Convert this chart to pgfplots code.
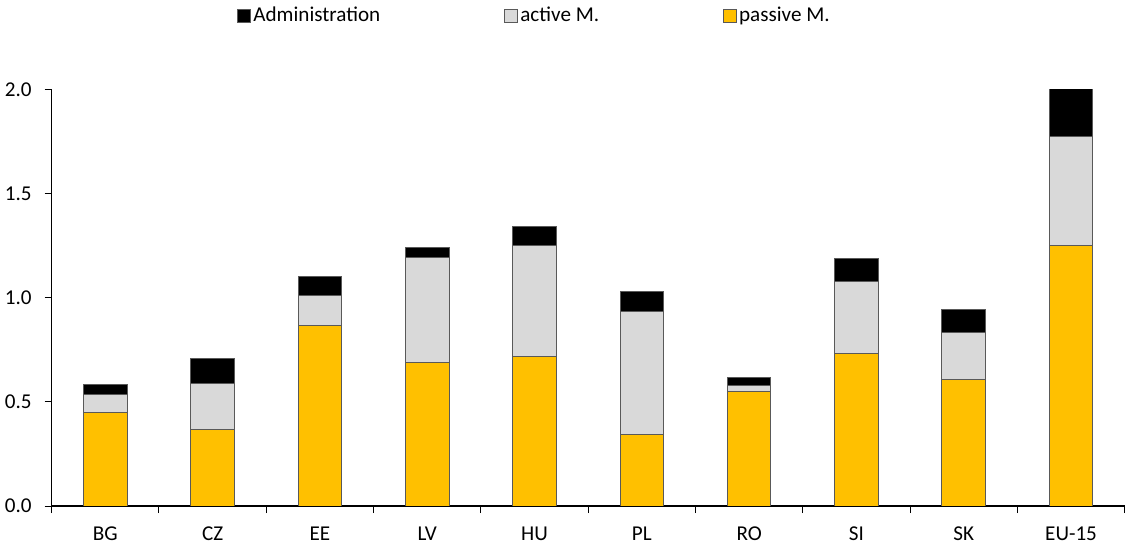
\documentclass[border=0pt]{standalone}
\usepackage{pgfplots}
\pgfplotsset{compat=1.18}
\usepackage{fontspec}
\setmainfont{Carlito}
\definecolor{cyel}{HTML}{FFC000}
\definecolor{cgry}{HTML}{D9D9D9}
\definecolor{cedge}{HTML}{595959}
\pgfplotsset{sqleg/.style={legend image code/.code={\draw[##1] (0bp,-3.25bp) rectangle (6.5bp,3.25bp);}}}
\pgfplotstableread{
x passive active admin
0 0.45  0.085 0.05
1 0.37  0.22  0.12
2 0.87  0.14  0.095
3 0.69  0.505 0.05
4 0.72  0.53  0.095
5 0.345 0.59  0.095
6 0.55  0.03  0.04
7 0.735 0.342 0.113
8 0.61  0.225 0.11
9 1.25  0.525 0.23
}\data
\begin{document}
\begin{tikzpicture}
\useasboundingbox (-25.85bp,-19bp) rectangle (538.15bp,253bp);
\begin{axis}[
  at={(0,0)}, anchor=south west,
  width=536.5bp, height=208bp, scale only axis,
  ybar stacked, bar width=21.8bp,
  xmin=-0.5, xmax=9.5, ymin=0, ymax=2,
  axis lines*=left,
  axis line style={line width=0.75bp, black},
  font=\fontsize{10.6}{12.7}\selectfont,
  /pgf/number format/assume math mode=true,
  yticklabel style={xshift=-3bp, /pgf/number format/.cd, fixed, fixed zerofill, precision=1},
  xticklabel style={yshift=-3.5bp},
  ytick={0,0.5,1,1.5,2},
  xtick={0,...,9},
  xticklabels={BG,CZ,EE,LV,HU,PL,RO,SI,SK,EU-15},
  xtick style={draw=none},
  extra x ticks={-0.5,0.5,1.5,2.5,3.5,4.5,5.5,6.5,7.5,8.5,9.5},
  extra x tick labels={},
  extra x tick style={xtick style={draw=black, line width=0.5bp}, major tick length=3.5bp, tick align=outside},
  ytick style={draw=black, line width=0.5bp},
  major tick length=3.5bp,
  tick align=outside,
  legend style={draw=none, fill=none, at={(0.1727,1.1780)}, anchor=west,
    legend columns=3, inner sep=0pt,
    /tikz/every even column/.append style={column sep=61bp},
    nodes={inner xsep=1bp, inner ysep=0pt}},
  legend cell align=left,
  reverse legend,
]
\addplot[fill=cyel, draw=cedge, line width=0.5bp, sqleg]
  table[x=x, y=passive] {\data};
\addplot[fill=cgry, draw=cedge, line width=0.5bp, sqleg]
  table[x=x, y=active] {\data};
\addplot[fill=black, draw=cedge, line width=0.5bp, sqleg]
  table[x=x, y=admin] {\data};
\legend{passive M., active M., Administration}
\end{axis}
\end{tikzpicture}
\end{document}
